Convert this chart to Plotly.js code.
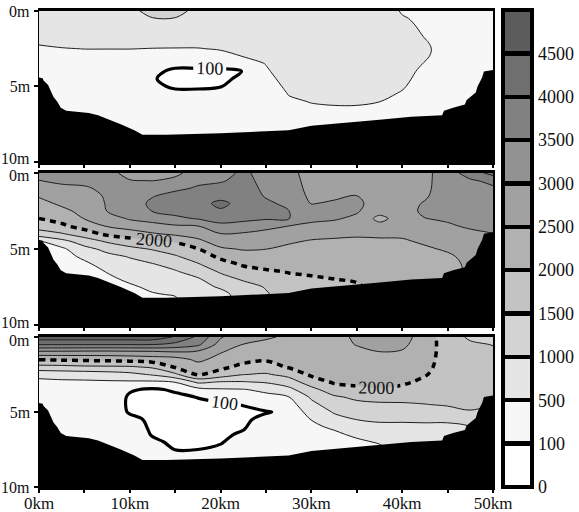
<!DOCTYPE html>
<html><head><meta charset="utf-8">
<script src="https://cdn.plot.ly/plotly-3.0.1.min.js"></script>
<style>html,body{margin:0;padding:0;background:#fff;}#chart{width:579px;height:512px;}</style>
</head><body><div id="chart"></div>
<script>
// ---- grid (distance along section, depth) ----
const xKm = [0,2.5,5,7.5,10,12.5,15,17.5,20,22.5,25,27.5,30,32.5,35,37.5,40,42.5,45,47.5,50];
const depthM = [0,0.5,1,1.5,2,2.5,3,3.5,4,4.5,5,5.5,6,6.5,7,7.5,8,8.5];

// ---- panel values: one profile (top -> bottom) per distance ----
const panel1 = [
 [840,760,690,610,540,460,390,310,240,200,200,200,200,200,200,200,200,200],
 [860,790,710,640,560,490,410,340,260,200,200,200,200,200,200,200,200,200],
 [880,800,730,650,580,503,430,350,280,210,200,200,200,200,200,200,200,200],
 [880,800,730,650,580,503,430,350,280,210,200,200,200,200,200,200,200,200],
 [880,800,730,650,580,503,430,350,280,210,200,200,200,200,200,200,200,200],
 [1150,980,720,645,570,495,420,300,180,120,180,220,220,220,220,220,220,220],
 [1150,980,717,642,567,492,417,200,30,20,50,200,220,220,220,220,220,220],
 [870,790,717,642,567,492,417,200,30,20,50,200,220,220,220,220,220,220],
 [890,815,740,665,590,515,440,200,40,40,90,220,220,220,220,220,220,220],
 [957,875,800,725,650,575,507,250,105,160,220,220,220,220,220,220,220,220],
 [900,900,890,815,740,665,590,515,440,365,290,215,200,200,200,200,200,200],
 [900,900,900,900,900,900,890,815,740,665,590,515,440,365,290,240,200,200],
 [900,900,900,900,900,900,900,890,815,740,665,590,515,440,365,290,240,200],
 [900,900,900,900,900,900,900,900,850,760,690,610,540,460,390,320,240,200],
 [900,900,900,900,900,900,900,900,850,760,690,610,540,460,390,320,240,200],
 [900,900,900,900,900,900,900,870,800,725,650,575,503,428,353,280,200,200],
 [440,560,650,700,720,720,700,660,620,580,530,470,400,340,300,270,250,250],
 [300,350,400,460,520,560,540,480,420,380,350,320,300,290,280,280,280,280],
 [280,300,320,340,350,350,340,320,300,290,280,270,260,250,250,250,250,250],
 [260,270,280,290,300,300,300,290,280,270,260,250,250,250,250,250,250,250],
 [250,250,250,250,250,250,250,250,250,250,250,250,250,250,250,250,250,250]
];
const panel2 = [
 [3200,2990,2773,2545,2357,2179,1995,1706,1286,450,300,300,300,300,300,300,300,300],
 [3250,3079,2911,2747,2582,2390,2171,1905,1462,841,400,300,300,300,300,300,300,300],
 [3250,3114,2950,2865,2749,2632,2516,2197,1761,1229,857,602,400,300,300,300,300,300],
 [3150,3130,3100,3040,3030,3010,2775,2525,2112,1560,1125,875,696,518,400,300,300,300],
 [2850,3020,3150,3250,3250,3180,3050,2705,2260,1783,1365,1027,867,723,578,430,300,300],
 [2800,2990,3300,3470,3600,3520,3150,2859,2449,1893,1536,1235,974,846,718,590,462,400],
 [2900,3100,3400,3650,3750,3650,3400,2934,2605,2041,1730,1446,1174,949,809,668,528,400],
 [3200,3400,3550,3750,3850,3750,3530,2980,2705,2387,1984,1726,1463,1200,940,850,800,800],
 [3300,3450,3650,3850,4100,3950,3700,3357,2990,2722,2432,2095,1812,1552,1300,1050,850,800],
 [3600,3650,3700,3750,3850,3750,3600,3331,2946,2752,2535,2298,2058,1806,1551,1300,1200,1200],
 [3300,3350,3400,3460,3580,3650,3550,3123,2865,2682,2505,2316,2132,1943,1738,1533,1450,1450],
 [3150,3200,3250,3300,3400,3510,3520,2990,2772,2556,2405,2276,2147,2018,1900,1800,1750,1750],
 [2800,2820,2850,2900,2980,3150,3100,2900,2650,2460,2358,2257,2156,2055,1950,1900,1900,1900],
 [2750,2780,2830,2920,3060,3150,3050,2824,2586,2443,2354,2264,2175,2086,1996,1950,1950,1950],
 [2750,2780,2850,3010,3100,3050,2900,2720,2545,2440,2359,2278,2197,2116,2036,1950,1950,1950],
 [2750,2750,2760,2770,2780,2700,2350,2680,2560,2450,2400,2350,2300,2250,2200,2150,2150,2150],
 [2800,2800,2820,2840,2860,2830,2750,2680,2590,2440,2380,2330,2280,2230,2200,2200,2200,2200],
 [2850,2870,2900,2950,3030,3080,2990,2850,2720,2570,2430,2370,2330,2300,2280,2280,2280,2280],
 [3300,3280,3250,3220,3180,3130,3060,2940,2800,2700,2560,2420,2350,2300,2300,2300,2300,2300],
 [3700,3450,3400,3350,3300,3230,3150,3060,2900,2800,2700,2650,2600,2600,2600,2600,2600,2600],
 [4200,3600,3450,3400,3350,3300,3200,3100,2990,2900,2800,2800,2800,2800,2800,2800,2800,2800]
];
const panel3 = [
 [4800,4023,2891,2015,1333,625,400,350,300,300,300,300,300,300,300,300,300,300],
 [4800,4020,2880,2060,1350,680,420,350,300,300,300,300,300,300,300,300,300,300],
 [4800,4020,2860,2090,1410,700,430,350,300,300,300,300,300,300,300,300,300,300],
 [4800,4020,2850,2120,1420,760,440,350,320,320,320,320,300,300,300,300,300,300],
 [4800,4010,2880,2160,1440,860,440,130,60,50,70,180,250,280,300,300,300,300],
 [4800,4010,2900,2240,1570,1050,420,60,30,30,30,40,50,80,150,250,300,300],
 [4450,3850,2990,2300,2050,1400,510,140,40,20,20,20,20,30,50,95,200,250],
 [3900,3600,2900,2600,2300,2050,1100,350,110,40,30,30,30,40,60,100,200,250],
 [3050,2800,2530,2350,2120,1780,970,450,200,60,40,40,40,50,80,150,250,300],
 [2650,2490,2300,2150,1860,1510,970,480,300,110,50,50,70,140,220,280,300,300],
 [2580,2350,2200,2050,1780,1450,1050,600,380,250,80,180,280,320,350,350,350,350],
 [2400,2300,2200,2130,2040,1650,1250,870,490,300,160,200,250,300,330,350,350,350],
 [2350,2300,2250,2200,2150,2080,1760,1350,1070,870,690,510,420,380,350,350,350,350],
 [2380,2350,2320,2280,2230,2160,2060,1780,1430,1250,1040,850,560,420,380,350,350,350],
 [2560,2520,2400,2320,2250,2170,2080,1930,1600,1380,1200,1005,810,580,420,400,400,400],
 [2800,2700,2490,2380,2300,2200,2110,1980,1690,1420,1230,1060,900,720,540,400,400,400],
 [2750,2620,2450,2350,2270,2170,2080,1880,1640,1450,1260,1060,900,800,750,750,750,750],
 [2200,2190,2170,2140,2100,2030,1900,1780,1640,1490,1300,1080,900,800,750,750,750,750],
 [1800,1820,1830,1830,1820,1800,1760,1700,1620,1540,1350,1080,900,800,800,800,800,800],
 [1400,1600,1700,1720,1720,1700,1680,1650,1600,1560,1480,1200,1000,900,900,900,900,900],
 [1300,1480,1600,1650,1650,1650,1630,1600,1570,1500,1400,1400,1400,1400,1400,1400,1400,1400]
];

// ---- sea floor (black) ----
const bathyKm    = [0,0.4,0.5,1.0,1.3,1.6,2.0,2.4,3.0,5.5,6.5,7.8,9.0,10.5,11.4,12.0,14.0,20.0,27.5,30.0,33.0,37.5,41.0,44.4,44.6,45.6,46.9,47.1,48.1,48.3,48.8,49.0,50];
const bathyDepth = [4.4,4.45,4.6,4.9,5.3,5.7,6.0,6.4,6.6,6.75,6.9,7.2,7.5,7.9,8.2,8.2,8.2,8.1,7.9,7.6,7.45,7.2,7.0,6.9,6.6,6.4,6.2,5.9,5.4,5.0,4.4,4.0,3.9];

// ---- levels / labels ----
const levelValues = [0,100,500,1000,1500,2000,2500,3000,3500,4000,4500];
const levelLabels = ['0','100','500','1000','1500','2000','2500','3000','3500','4000','4500'];
const xTickVals = [0,5,10,15,20,25,30,35,40,45,50];
const xTickText = ['0km','','10km','','20km','','30km','','40km','','50km'];
const yTickVals = [0,5,10];
const yTickText = ['0m','5m','10m'];

// ---- styles ----
const bandColors = ['#ffffff','#f7f7f7','#e5e5e5','#d3d3d3','#c3c3c3','#b1b1b1','#a1a1a1','#929292','#818181','#6f6f6f','#5c5c5c'];
const SERIF = '"Times New Roman", "Liberation Serif", "DejaVu Serif", serif';
const X_RANGE = [0,50], Y_RANGE = [10,0];
const FILL_START = 100, FILL_END = 4500, FILL_STEP = 100;

// fill colorscale: every 100-wide band gets the colour of its legend class
const fillScale = [[0, bandColors[0]]];
for (let k = 1; k < bandColors.length; k++) {
  const lo = levelValues[k] / FILL_END;
  const hi = (k + 1 < levelValues.length) ? (levelValues[k+1] - FILL_STEP) / FILL_END : 1;
  fillScale.push([lo, bandColors[k]]);
  if (hi > lo) fillScale.push([hi, bandColors[k]]);
}
// colour-bar scale: equal boxes with black separators
const nb = bandColors.length, sep = 0.0045;
const barScale = [];
for (let k = 0; k < nb; k++) {
  const a = k / nb, b = (k + 1) / nb;
  const a2 = k === 0 ? a : a + sep, b2 = k === nb - 1 ? b : b - sep;
  barScale.push([a2, bandColors[k]], [b2, bandColors[k]]);
  if (k < nb - 1) barScale.push([b2, '#000'], [b + sep, '#000']);
}

const panels = [panel1, panel2, panel3];
const axSuffix = ['', '2', '3'];
const traces = [];
panels.forEach((pz, i) => {
  const xa = 'x' + axSuffix[i], ya = 'y' + axSuffix[i];
  const base = {type:'contour', x:xKm, y:depthM, z:pz, transpose:true, xaxis:xa, yaxis:ya,
                showscale:false, hoverinfo:'skip', autocontour:false};
  traces.push(Object.assign({}, base, {
    contours:{start:FILL_START, end:FILL_END, size:FILL_STEP, coloring:'fill', showlines:false},
    colorscale:fillScale, line:{width:0, smoothing:1}
  }));
  [[500,1500],[2500,4500]].forEach(r => traces.push(Object.assign({}, base, {
    contours:{start:r[0], end:r[1], size:500, coloring:'none'},
    line:{color:'#1e1e1e', width:1, smoothing:1}
  })));
  traces.push(Object.assign({}, base, {
    contours:{start:100, end:100, size:100, coloring:'none', showlabels:true,
              labelfont:{family:SERIF, size:18, color:'#111'}, labelformat:'d'},
    line:{color:'#000', width:3.2, smoothing:1}
  }));
  traces.push(Object.assign({}, base, {
    contours:{start:2000, end:2000, size:100, coloring:'none', showlabels:true,
              labelfont:{family:SERIF, size:18, color:'#111'}, labelformat:'d'},
    line:{color:'#000', width:3.5, dash:'6px,5px', smoothing:1}
  }));
  traces.push({type:'scatter', mode:'lines', xaxis:xa, yaxis:ya, hoverinfo:'skip',
    x: bathyKm.concat([X_RANGE[1], X_RANGE[0]]),
    y: bathyDepth.concat([Y_RANGE[0], Y_RANGE[0]]),
    fill:'toself', fillcolor:'#000', line:{width:0, color:'#000'}});
});

// plot area spans the whole width; panels use the left part, colour bar sits right of them
const ML = 39, MR = 0, W = 579;
const plotW = W - ML - MR;
const panelRight = 454 / plotW;
// colour bar (trace kept outside the visible ranges, only its scale is shown)
traces.push({type:'heatmap', x:[200,201], y:[200], z:[[0, levelValues.length]], xaxis:'x', yaxis:'y',
  zmin:0, zmax:levelValues.length, colorscale:barScale, hoverinfo:'skip', showscale:true,
  colorbar:{thickness:29, thicknessmode:'pixels', len:477, lenmode:'pixels',
    x:464 / plotW, xanchor:'left', xpad:0, y:0, yanchor:'bottom', ypad:0,
    outlinewidth:4, outlinecolor:'#000', borderwidth:0,
    tickmode:'array', tickvals:levelValues.map((v,i)=>i), ticktext:levelLabels, ticks:'', ticklen:0,
    tickfont:{family:SERIF, size:18, color:'#111'}}});

const xBase = {range:X_RANGE, domain:[0, panelRight], tickmode:'array', tickvals:xTickVals, ticktext:xTickText,
  ticks:'outside', ticklen:3, tickwidth:2, tickcolor:'#000', showline:true, linecolor:'#000',
  linewidth:3, mirror:true, showgrid:false, zeroline:false,
  tickfont:{family:SERIF, size:17, color:'#111'}};
const yBase = {range:Y_RANGE, tickmode:'array', tickvals:yTickVals, ticktext:['', yTickText[1], ''],
  ticks:'outside', ticklen:4, tickwidth:2, tickcolor:'#000', showline:true, linecolor:'#000',
  linewidth:1.5, mirror:true, showgrid:false, zeroline:false,
  tickfont:{family:SERIF, size:16, color:'#111'}};

const doms = [[0.6828,1],[0.3403,0.6597],[0,0.3151]];
const annotations = [];
const layout = {
  width:W, height:512, margin:{l:ML, r:MR, t:11, b:25},
  paper_bgcolor:'#fff', plot_bgcolor:'#fff', showlegend:false,
  font:{family:SERIF, color:'#111'},
  xaxis:Object.assign({}, xBase, {anchor:'y', showticklabels:false}),
  xaxis2:Object.assign({}, xBase, {anchor:'y2', showticklabels:false}),
  xaxis3:Object.assign({}, xBase, {anchor:'y3', showticklabels:true, ticklabelstandoff:-4}),
  annotations
};
// end labels (0m / 10m) written next to their ticks, nudged apart where panels meet
doms.forEach((d, i) => {
  const s = i === 0 ? '' : String(i + 1);
  layout['yaxis' + s] = Object.assign({}, yBase, {anchor:'x' + s, domain:d});
  [[0, i === 0 ? 0 : -3], [2, i === 2 ? 0 : 3]].forEach(([t, shift]) => annotations.push({
    xref:'paper', x:0, xanchor:'right', xshift:-7, yref:'y' + s, y:yTickVals[t], yanchor:'middle',
    yshift:shift, text:yTickText[t], showarrow:false, font:{family:SERIF, size:16, color:'#111'}
  }));
});
Plotly.newPlot('chart', traces, layout, {staticPlot:true, displayModeBar:false});
</script></body></html>
